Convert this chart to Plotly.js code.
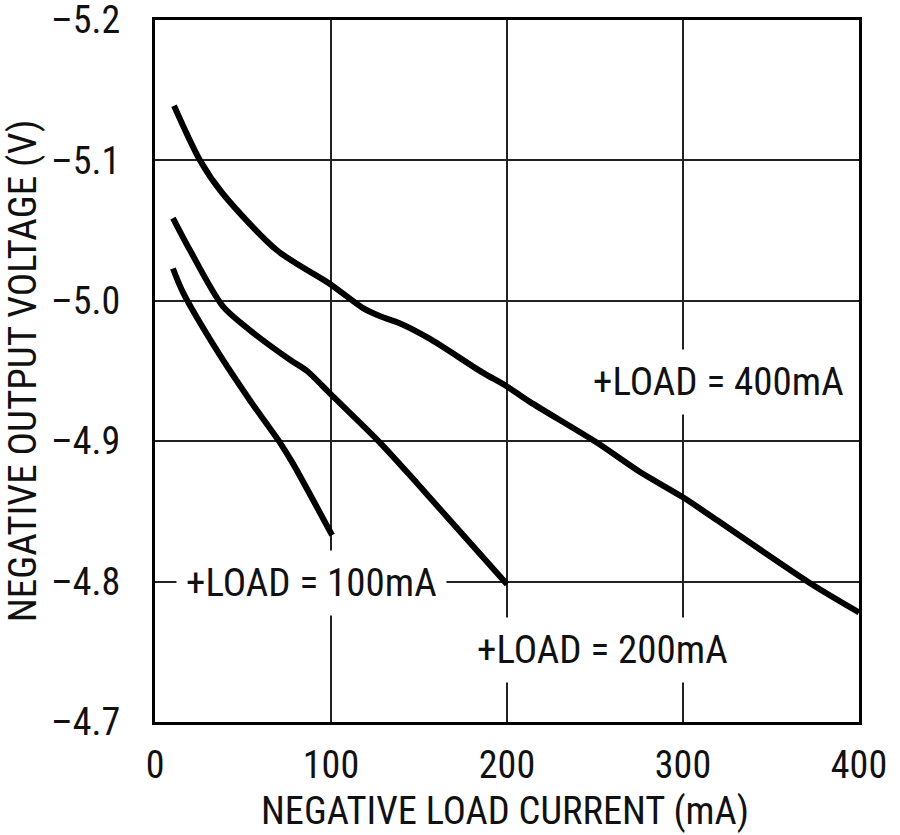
<!DOCTYPE html>
<html>
<head>
<meta charset="utf-8">
<script src="https://cdn.plot.ly/plotly-3.0.1.min.js"></script>
<style>
  html, body { margin: 0; padding: 0; background: #fff; }
  #chart { width: 900px; height: 835px; }
</style>
</head>
<body>
<div id="chart"></div>
<script>
// curves: negative load current (mA) vs negative output voltage (V)
var load400_x = [10.8, 25.6, 38.1, 69.3, 99.4, 118, 128, 139, 156, 186, 200, 213, 251, 275.6, 300, 319, 372, 400]
var load400_y = [-5.139, -5.100, -5.077, -5.036, -5.012, -4.995, -4.989, -4.984, -4.973, -4.949, -4.939, -4.928, -4.899, -4.878, -4.860, -4.844, -4.799, -4.778]

var load200_x = [10.2, 19.9, 38.6, 54, 76.7, 86.4, 99.4, 127.8, 148.9, 200]
var load200_y = [-5.059, -5.036, -4.996, -4.979, -4.958, -4.950, -4.934, -4.899, -4.870, -4.798]

var load100_x = [10.2, 15.9, 35, 54, 71, 78.4, 100.6]
var load100_y = [-5.023, -5.006, -4.965, -4.929, -4.899, -4.884, -4.833]

var x_ticks = [0, 100, 200, 300, 400]
var y_ticks = [-5.2, -5.1, -5.0, -4.9, -4.8, -4.7]
var y_tick_text = ['\u20135.2', '\u20135.1', '\u20135.0', '\u20134.9', '\u20134.8', '\u20134.7']

var label_text = ['+LOAD = 400mA', '+LOAD = 200mA', '+LOAD = 100mA']
var label_x = [320, 254, 89]
var label_y = [-4.942, -4.751, -4.799]

var x_title = 'NEGATIVE LOAD CURRENT (mA)'
var y_title = 'NEGATIVE OUTPUT VOLTAGE (V)'

var font_family = '"Liberation Sans Narrow", "Arial Narrow", "Roboto Condensed", "Liberation Sans", sans-serif'

function curve(x, y) {
    return {
        x: x,
        y: y,
        type: 'scatter',
        mode: 'lines',
        line: { color: '#000', width: 6, shape: 'spline', smoothing: 0.8 },
        hoverinfo: 'skip'
    }
}

var trace_data = [
    curve(load400_x, load400_y),
    curve(load200_x, load200_y),
    curve(load100_x, load100_y)
]

var annotations = label_text.map(function (t, i) {
    return {
        x: label_x[i],
        y: label_y[i],
        xref: 'x',
        yref: 'y',
        text: t,
        showarrow: false,
        bgcolor: '#fff',
        borderpad: 9,
        font: { family: font_family, size: 39, color: '#111' }
    }
})

// x axis title placed as paper text so it sits where the original has it
annotations.push({
    x: 0.497,
    y: -0.126,
    xref: 'paper',
    yref: 'paper',
    yanchor: 'middle',
    text: x_title,
    showarrow: false,
    font: { family: font_family, size: 38.5, color: '#111' }
})

var layout = {
    width: 900,
    height: 835,
    margin: { l: 155, r: 41, t: 20, b: 113 },
    paper_bgcolor: '#fff',
    plot_bgcolor: '#fff',
    showlegend: false,
    font: { family: font_family, size: 38, color: '#111' },
    xaxis: {
        range: [0, 400],
        tickvals: x_ticks,
        ticks: '',
        ticklabelstandoff: 7,
        ticklabeloverflow: 'allow',
        showgrid: true,
        gridcolor: '#222',
        gridwidth: 2,
        zeroline: false,
        showline: true,
        mirror: true,
        linecolor: '#000',
        linewidth: 3,
        automargin: false
    },
    yaxis: {
        range: [-4.6999, -5.2001],
        tickvals: y_ticks,
        ticktext: y_tick_text,
        ticks: '',
        ticklabelstandoff: 24,
        ticklabeloverflow: 'allow',
        showgrid: true,
        gridcolor: '#222',
        gridwidth: 2,
        zeroline: false,
        showline: true,
        mirror: true,
        linecolor: '#000',
        linewidth: 3,
        automargin: false,
        title: { text: y_title, font: { size: 39 }, standoff: 6 }
    },
    annotations: annotations
}

var plotly_config = { displayModeBar: false, staticPlot: true }

Plotly.newPlot('chart', trace_data, layout, plotly_config)
</script>
</body>
</html>
